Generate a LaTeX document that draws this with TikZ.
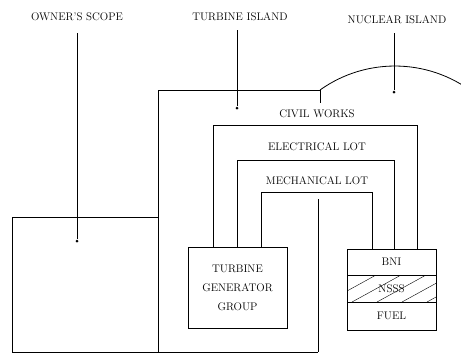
\documentclass[tikz,border=0pt]{standalone}
\usetikzlibrary{positioning}
\tikzset{
  lbl/.style={font=\fontsize{11}{13}\selectfont, inner sep=1pt},
  unitbox/.style={draw, line width=0.7pt, minimum width=99pt, minimum height=81pt, align=center, font=\fontsize{11}{19}\selectfont},
  rowbox/.style={draw, line width=0.7pt, minimum width=89pt, inner sep=0pt, outer sep=0pt, font=\fontsize{11}{13}\selectfont},
  wire/.style={line width=0.6pt},
  dot/.style={circle, fill, inner sep=0pt, minimum size=3pt}
}
\begin{document}
\begin{tikzpicture}[x=1pt, y=-1pt]
		\useasboundingbox (0,0) rectangle (461,354);
		% titles and their leaders
		\node[lbl] (owner) at (77,17) {OWNER'S SCOPE};
		\node[lbl] (turbine) at (240,17) {TURBINE ISLAND};
		\node[lbl] (nuclear) at (397,20) {NUCLEAR ISLAND};
		\node[dot] (ownerdot) at (77,241) {};
		\node[dot] (turbinedot) at (237,108) {};
		\node[dot] (nucleardot) at (394,92) {};
		\draw[wire] (77,33) -- (ownerdot);
		\draw[wire] (237,30) -- (turbinedot);
		\draw[wire] (394,33) -- (nucleardot);
		% owner's scope and island outline
		\draw[line width=0.8pt] (158,217) -- (12,217) -- (12,352) -- (318,352);
		\draw[line width=0.8pt] (158,352) -- (158,90) -- (320,90);
		\begin{scope}
		\clip (0,0) rectangle (461,354);
		\draw[line width=0.8pt] (320,90) arc[start angle=-125.5, end angle=-50, radius=129];
		\end{scope}
		\draw[wire] (320,90) -- (320,103);
		% equipment
		\node[unitbox] (tg) at (237.5,287.5) {TURBINE\\GENERATOR\\GROUP};
		\node[rowbox, minimum height=26pt] (bni) at (391.5,262) {BNI};
		\node[rowbox, minimum height=27pt, below=0pt of bni] (nsss) {};
		\node[rowbox, minimum height=28pt, below=0pt of nsss] (fuel) {FUEL};
		\begin{scope}
		\clip (nsss.south west) rectangle (nsss.north east);
		\foreach \s in {-20,5,30,55,80}
		\draw[line width=0.4pt] ([xshift=\s pt]nsss.south west) -- ++(60,-33);
		\end{scope}
		\node[font=\fontsize{11}{13}\selectfont] (nssstext) at (nsss) {NSSS};
		% lots
		\node[lbl] (civil) at (317,114) {CIVIL WORKS};
		\node[lbl] (electrical) at (317,147) {ELECTRICAL LOT};
		\node[lbl] (mechanical) at (317,181) {MECHANICAL LOT};
		\draw[wire] (tg.north west -| 213,0) -- (213,125) -- (417,125) -- (bni.north -| 417,0);
		\draw[wire] (tg.north -| 237,0) -- (237,160) -- (394,160) -- (bni.north -| 394,0);
		\draw[wire] (tg.north -| 261,0) -- (261,192) -- (372,192) -- (bni.north -| 372,0);
		\draw[wire] (318,199) -- (318,352);
\end{tikzpicture}
\end{document}
